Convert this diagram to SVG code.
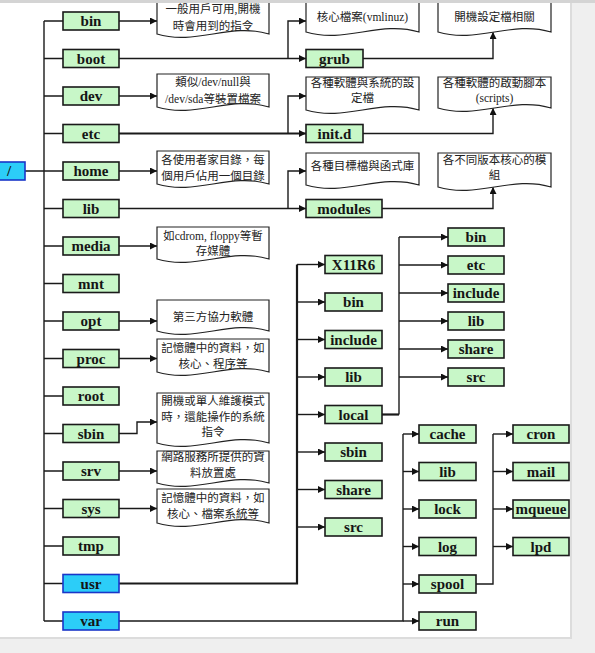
<svg xmlns="http://www.w3.org/2000/svg" width="595" height="653" viewBox="0 0 595 653">
<defs>
<style>
.bx{fill:#c8f7c8;stroke:#1a1a1a;stroke-width:1.6}
.cy{fill:#2ccdf8;stroke:#1a36c8;stroke-width:1.6}
.lb{font-family:"Liberation Serif",serif;font-size:15px;font-weight:bold;text-anchor:middle;fill:#151515}
.doc{fill:#fff;stroke:#222;stroke-width:1.2}
.dt{font-family:"Liberation Serif","Noto Sans CJK TC",serif;font-size:11.5px;text-anchor:middle;fill:#222}
.ln{fill:none;stroke:#1a1a1a;stroke-width:1.4}
.tk{stroke-width:2.2}
</style>
<marker id="ar" viewBox="0 0 8 8" refX="8" refY="4" markerWidth="7" markerHeight="7" markerUnits="userSpaceOnUse" orient="auto">
<path d="M0,0 L8,4 L0,8 z" fill="#111"/>
</marker>
</defs>
<rect x="0" y="0" width="595" height="653" fill="#efefef"/>
<rect x="0" y="3" width="572" height="636" fill="#dcdcdc"/>
<rect x="0" y="3" width="570" height="634" fill="#ffffff"/>

<g id="connectors">
<path class="ln" d="M25,171 H44 M44,21 V621"/>
<path class="ln" d="M44,21 H63 M44,58.5 H63 M44,96 H63 M44,133.5 H63 M44,171 H63 M44,208.5 H63 M44,246 H63 M44,283.5 H63 M44,321 H63 M44,358.5 H63 M44,396 H63 M44,433.5 H63 M44,471 H63 M44,508.5 H63 M44,546 H63 M44,583.5 H63 M44,621 H63"/>
<g marker-end="url(#ar)">
<path class="ln" d="M119,21 H157"/>
<path class="ln" d="M119,96 H157"/>
<path class="ln" d="M119,171 H157"/>
<path class="ln" d="M119,246 H157"/>
<path class="ln" d="M119,321 H157"/>
<path class="ln" d="M119,358.5 H157"/>
<path class="ln" d="M119,433.5 H137 V422 H157"/>
<path class="ln" d="M119,471 H157"/>
<path class="ln" d="M119,508.5 H157"/>
<path class="ln" d="M119,58.5 H306"/>
<path class="ln" d="M288,58.5 V21 H306"/>
<path class="ln" d="M363,58.5 H493 V32"/>
<path class="ln tk" d="M119,133.5 H306"/>
<path class="ln" d="M288,133.5 V96 H306"/>
<path class="ln" d="M363,133.5 H493 V108"/>
<path class="ln" d="M119,208.5 H306"/>
<path class="ln" d="M288,208.5 V171 H306"/>
<path class="ln" d="M382,208.5 H493 V187"/>
</g>
<path class="ln tk" d="M119,583.5 H297 V264.5"/>
<g marker-end="url(#ar)">
<path class="ln" d="M297,264.5 H325"/>
<path class="ln" d="M297,302 H325"/>
<path class="ln" d="M297,339.5 H325"/>
<path class="ln" d="M297,377 H325"/>
<path class="ln" d="M297,414.5 H325"/>
<path class="ln" d="M297,452 H325"/>
<path class="ln" d="M297,489.5 H325"/>
<path class="ln" d="M297,527 H325"/>
</g>
<path class="ln tk" d="M382,414.5 H399"/>
<path class="ln" d="M399,414.5 V237"/>
<g marker-end="url(#ar)">
<path class="ln" d="M399,237 H448"/>
<path class="ln" d="M399,265 H448"/>
<path class="ln" d="M399,293 H448"/>
<path class="ln" d="M399,321 H448"/>
<path class="ln" d="M399,349 H448"/>
<path class="ln" d="M399,377 H448"/>
</g>
<path class="ln" d="M119,621 H403 V434"/>
<g marker-end="url(#ar)">
<path class="ln" d="M403,434 H419"/>
<path class="ln" d="M403,471.5 H419"/>
<path class="ln" d="M403,509 H419"/>
<path class="ln" d="M403,546.5 H419"/>
<path class="ln" d="M403,584 H419"/>
<path class="ln" d="M403,621 H419"/>
</g>
<path class="ln" d="M476,584 H493 V434"/>
<g marker-end="url(#ar)">
<path class="ln" d="M493,434 H513"/>
<path class="ln" d="M493,471.5 H513"/>
<path class="ln" d="M493,509 H513"/>
<path class="ln" d="M493,546.5 H513"/>
</g>
</g>

<g id="root"><rect class="cy" x="-2" y="162" width="27" height="18"/><text class="lb" x="9" y="176">/</text></g>

<g id="bin"><rect class="bx" x="63" y="12" width="56" height="18"/><text class="lb" x="91" y="26">bin</text></g>
<g id="boot"><rect class="bx" x="63" y="49.5" width="56" height="18"/><text class="lb" x="91" y="63.5">boot</text></g>
<g id="dev"><rect class="bx" x="63" y="87" width="56" height="18"/><text class="lb" x="91" y="101">dev</text></g>
<g id="etc"><rect class="bx" x="63" y="124.5" width="56" height="18"/><text class="lb" x="91" y="138.5">etc</text></g>
<g id="home"><rect class="bx" x="63" y="162" width="56" height="18"/><text class="lb" x="91" y="176">home</text></g>
<g id="lib"><rect class="bx" x="63" y="199.5" width="56" height="18"/><text class="lb" x="91" y="213.5">lib</text></g>
<g id="media"><rect class="bx" x="63" y="237" width="56" height="18"/><text class="lb" x="91" y="251">media</text></g>
<g id="mnt"><rect class="bx" x="63" y="274.5" width="56" height="18"/><text class="lb" x="91" y="288.5">mnt</text></g>
<g id="opt"><rect class="bx" x="63" y="312" width="56" height="18"/><text class="lb" x="91" y="326">opt</text></g>
<g id="proc"><rect class="bx" x="63" y="349.5" width="56" height="18"/><text class="lb" x="91" y="363.5">proc</text></g>
<g id="root-dir"><rect class="bx" x="63" y="387" width="56" height="18"/><text class="lb" x="91" y="401">root</text></g>
<g id="sbin"><rect class="bx" x="63" y="424.5" width="56" height="18"/><text class="lb" x="91" y="438.5">sbin</text></g>
<g id="srv"><rect class="bx" x="63" y="462" width="56" height="18"/><text class="lb" x="91" y="476">srv</text></g>
<g id="sys"><rect class="bx" x="63" y="499.5" width="56" height="18"/><text class="lb" x="91" y="513.5">sys</text></g>
<g id="tmp"><rect class="bx" x="63" y="537" width="56" height="18"/><text class="lb" x="91" y="551">tmp</text></g>
<g id="usr"><rect class="cy" x="63" y="574.5" width="56" height="18"/><text class="lb" x="91" y="588.5">usr</text></g>
<g id="var"><rect class="cy" x="63" y="612" width="56" height="18"/><text class="lb" x="91" y="626">var</text></g>

<g id="doc-bin"><path class="doc" d="M157,-4 H269 V34 C229.8,22 196.2,46 157,34 Z"/><text class="dt" x="213" y="13">一般用戶可用,開機</text><text class="dt" x="213" y="30">時會用到的指令</text></g>
<g id="doc-dev"><path class="doc" d="M157,74 H269 V107 C229.8,95 196.2,119 157,107 Z"/><text class="dt" x="213" y="86">類似/dev/null與</text><text class="dt" x="213" y="103">/dev/sda等裝置檔案</text></g>
<g id="doc-home"><path class="doc" d="M157,151 H269 V184 C229.8,172 196.2,196 157,184 Z"/><text class="dt" x="213" y="164">各使用者家目錄，每</text><text class="dt" x="213" y="180">個用戶佔用一個目錄</text></g>
<g id="doc-media"><path class="doc" d="M157,227 H269 V259 C229.8,247 196.2,271 157,259 Z"/><text class="dt" x="213" y="240">如cdrom, floppy等暫</text><text class="dt" x="213" y="255">存媒體</text></g>
<g id="doc-opt"><path class="doc" d="M157,300 H269 V331 C229.8,319 196.2,343 157,331 Z"/><text class="dt" x="213" y="321">第三方協力軟體</text></g>
<g id="doc-proc"><path class="doc" d="M157,339 H269 V372 C229.8,360 196.2,384 157,372 Z"/><text class="dt" x="213" y="352">記憶體中的資料，如</text><text class="dt" x="213" y="368">核心、程序等</text></g>
<g id="doc-sbin"><path class="doc" d="M157,393 H269 V443 C229.8,431 196.2,455 157,443 Z"/><text class="dt" x="213" y="405">開機或單人維護模式</text><text class="dt" x="213" y="421">時，還能操作的系統</text><text class="dt" x="213" y="436">指令</text></g>
<g id="doc-srv"><path class="doc" d="M157,451 H269 V483 C229.8,471 196.2,495 157,483 Z"/><text class="dt" x="213" y="461">網路服務所提供的資</text><text class="dt" x="213" y="477">料放置處</text></g>
<g id="doc-sys"><path class="doc" d="M157,489 H269 V523 C229.8,511 196.2,535 157,523 Z"/><text class="dt" x="213" y="502">記憶體中的資料，如</text><text class="dt" x="213" y="518">核心、檔案系統等</text></g>

<g id="doc-vmlinuz"><path class="doc" d="M306,-4 H419 V32 C379.5,20 345.5,44 306,32 Z"/><text class="dt" x="362.5" y="21">核心檔案(vmlinuz)</text></g>
<g id="doc-grub"><path class="doc" d="M438,-4 H551 V32 C511.5,20 477.5,44 438,32 Z"/><text class="dt" x="494.5" y="21">開機設定檔相關</text></g>
<g id="doc-etc"><path class="doc" d="M306,77 H419 V110 C379.5,98 345.5,122 306,110 Z"/><text class="dt" x="362.5" y="87">各種軟體與系統的設</text><text class="dt" x="362.5" y="102">定檔</text></g>
<g id="doc-initd"><path class="doc" d="M438,77 H551 V108 C511.5,96 477.5,120 438,108 Z"/><text class="dt" x="494.5" y="87">各種軟體的啟動腳本</text><text class="dt" x="494.5" y="102">(scripts)</text></g>
<g id="doc-lib"><path class="doc" d="M306,153 H419 V185 C379.5,173 345.5,197 306,185 Z"/><text class="dt" x="362.5" y="170">各種目標檔與函式庫</text></g>
<g id="doc-modules"><path class="doc" d="M438,153 H551 V187 C511.5,175 477.5,199 438,187 Z"/><text class="dt" x="494.5" y="164">各不同版本核心的模</text><text class="dt" x="494.5" y="179">組</text></g>

<g id="grub"><rect class="bx" x="306" y="49.5" width="57" height="18"/><text class="lb" x="334.5" y="63.5">grub</text></g>
<g id="initd"><rect class="bx" x="306" y="124.5" width="57" height="18"/><text class="lb" x="334.5" y="138.5">init.d</text></g>
<g id="modules"><rect class="bx" x="306" y="199.5" width="76" height="18"/><text class="lb" x="344" y="213.5">modules</text></g>

<g id="usr-X11R6"><rect class="bx" x="325" y="255.5" width="57" height="18"/><text class="lb" x="353.5" y="269.5">X11R6</text></g>
<g id="usr-bin"><rect class="bx" x="325" y="293" width="57" height="18"/><text class="lb" x="353.5" y="307">bin</text></g>
<g id="usr-include"><rect class="bx" x="325" y="330.5" width="57" height="18"/><text class="lb" x="353.5" y="344.5">include</text></g>
<g id="usr-lib"><rect class="bx" x="325" y="368" width="57" height="18"/><text class="lb" x="353.5" y="382">lib</text></g>
<g id="usr-local"><rect class="bx" x="325" y="405.5" width="57" height="18"/><text class="lb" x="353.5" y="419.5">local</text></g>
<g id="usr-sbin"><rect class="bx" x="325" y="443" width="57" height="18"/><text class="lb" x="353.5" y="457">sbin</text></g>
<g id="usr-share"><rect class="bx" x="325" y="480.5" width="57" height="18"/><text class="lb" x="353.5" y="494.5">share</text></g>
<g id="usr-src"><rect class="bx" x="325" y="518" width="57" height="18"/><text class="lb" x="353.5" y="532">src</text></g>

<g id="local-bin"><rect class="bx" x="448" y="228" width="56" height="18"/><text class="lb" x="476" y="242">bin</text></g>
<g id="local-etc"><rect class="bx" x="448" y="256" width="56" height="18"/><text class="lb" x="476" y="270">etc</text></g>
<g id="local-include"><rect class="bx" x="448" y="284" width="56" height="18"/><text class="lb" x="476" y="298">include</text></g>
<g id="local-lib"><rect class="bx" x="448" y="312" width="56" height="18"/><text class="lb" x="476" y="326">lib</text></g>
<g id="local-share"><rect class="bx" x="448" y="340" width="56" height="18"/><text class="lb" x="476" y="354">share</text></g>
<g id="local-src"><rect class="bx" x="448" y="368" width="56" height="18"/><text class="lb" x="476" y="382">src</text></g>

<g id="var-cache"><rect class="bx" x="419" y="425" width="57" height="18"/><text class="lb" x="447.5" y="439">cache</text></g>
<g id="var-lib"><rect class="bx" x="419" y="462.5" width="57" height="18"/><text class="lb" x="447.5" y="476.5">lib</text></g>
<g id="var-lock"><rect class="bx" x="419" y="500" width="57" height="18"/><text class="lb" x="447.5" y="514">lock</text></g>
<g id="var-log"><rect class="bx" x="419" y="537.5" width="57" height="18"/><text class="lb" x="447.5" y="551.5">log</text></g>
<g id="var-spool"><rect class="bx" x="419" y="575" width="57" height="18"/><text class="lb" x="447.5" y="589">spool</text></g>
<g id="var-run"><rect class="bx" x="419" y="612" width="57" height="18"/><text class="lb" x="447.5" y="626">run</text></g>

<g id="spool-cron"><rect class="bx" x="513" y="425" width="56" height="18"/><text class="lb" x="541" y="439">cron</text></g>
<g id="spool-mail"><rect class="bx" x="513" y="462.5" width="56" height="18"/><text class="lb" x="541" y="476.5">mail</text></g>
<g id="spool-mqueue"><rect class="bx" x="513" y="500" width="56" height="18"/><text class="lb" x="541" y="514">mqueue</text></g>
<g id="spool-lpd"><rect class="bx" x="513" y="537.5" width="56" height="18"/><text class="lb" x="541" y="551.5">lpd</text></g>

<rect x="0" y="0" width="595" height="3" fill="#d4d4d4"/>
</svg>
